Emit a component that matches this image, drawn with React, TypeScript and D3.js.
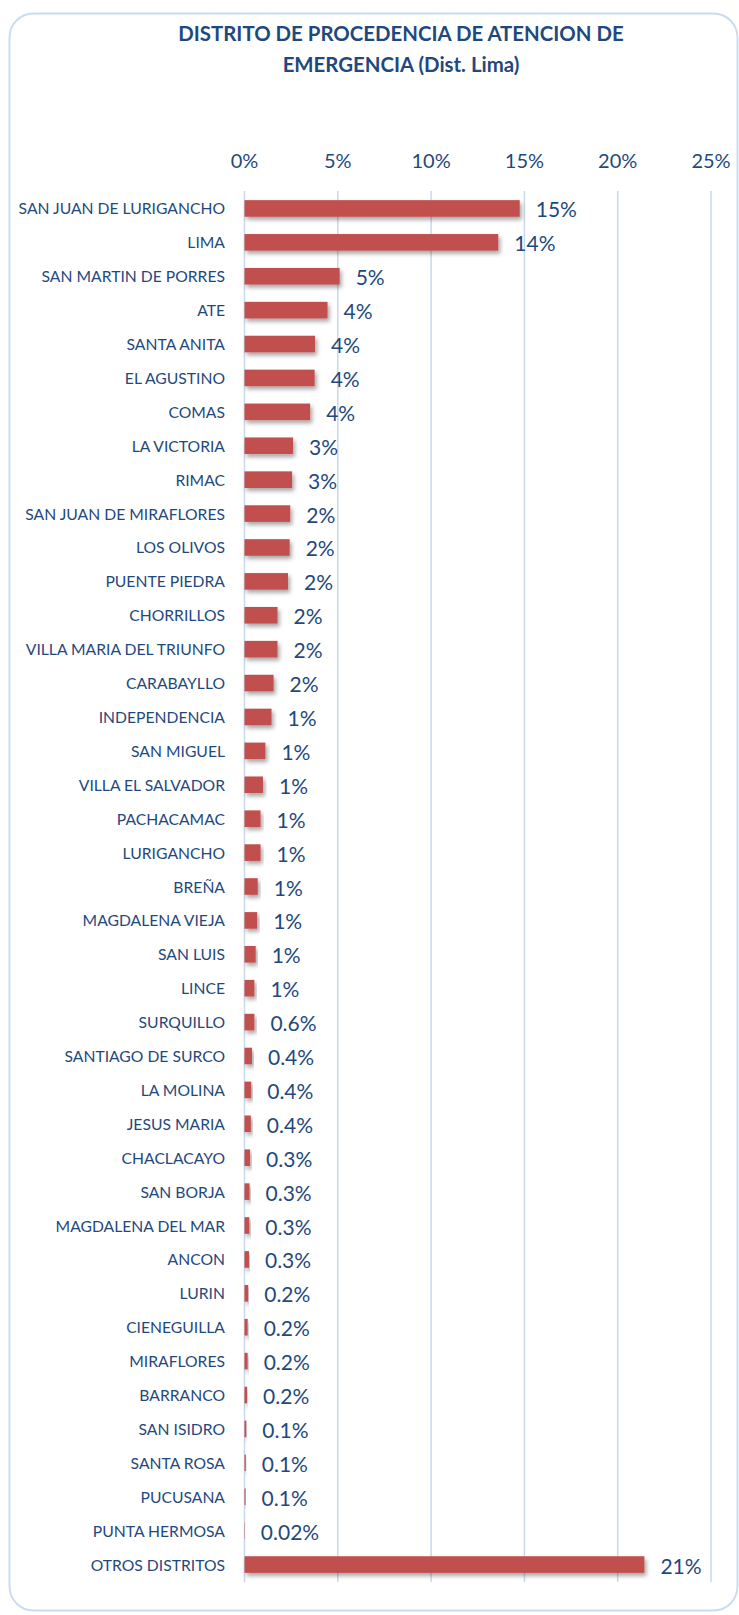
import React from "react";
import * as d3 from "d3";

const categories: string[] = [
  "SAN JUAN DE LURIGANCHO", "LIMA", "SAN MARTIN DE PORRES", "ATE", "SANTA ANITA",
  "EL AGUSTINO", "COMAS", "LA VICTORIA", "RIMAC", "SAN JUAN DE MIRAFLORES",
  "LOS OLIVOS", "PUENTE PIEDRA", "CHORRILLOS", "VILLA MARIA DEL TRIUNFO", "CARABAYLLO",
  "INDEPENDENCIA", "SAN MIGUEL", "VILLA EL SALVADOR", "PACHACAMAC", "LURIGANCHO",
  "BREÑA", "MAGDALENA VIEJA", "SAN LUIS", "LINCE", "SURQUILLO",
  "SANTIAGO DE SURCO", "LA MOLINA", "JESUS MARIA", "CHACLACAYO", "SAN BORJA",
  "MAGDALENA DEL MAR", "ANCON", "LURIN", "CIENEGUILLA", "MIRAFLORES",
  "BARRANCO", "SAN ISIDRO", "SANTA ROSA", "PUCUSANA", "PUNTA HERMOSA",
  "OTROS DISTRITOS",
];

const values: number[] = [
  14.75, 13.6, 5.1, 4.45, 3.78,
  3.76, 3.52, 2.6, 2.55, 2.45,
  2.42, 2.33, 1.77, 1.77, 1.56,
  1.45, 1.12, 0.99, 0.86, 0.86,
  0.71, 0.68, 0.6, 0.53, 0.53,
  0.4, 0.36, 0.34, 0.3, 0.27,
  0.26, 0.24, 0.2, 0.17, 0.17,
  0.14, 0.1, 0.07, 0.06, 0.02,
  21.43,
];

const valueLabels: string[] = [
  "15%", "14%", "5%", "4%", "4%",
  "4%", "4%", "3%", "3%", "2%",
  "2%", "2%", "2%", "2%", "2%",
  "1%", "1%", "1%", "1%", "1%",
  "1%", "1%", "1%", "1%", "0.6%",
  "0.4%", "0.4%", "0.4%", "0.3%", "0.3%",
  "0.3%", "0.3%", "0.2%", "0.2%", "0.2%",
  "0.2%", "0.1%", "0.1%", "0.1%", "0.02%",
  "21%",
];

const ticks: number[] = [0, 5, 10, 15, 20, 25];
const titleLines: string[] = ["DISTRITO DE PROCEDENCIA DE ATENCION DE", "EMERGENCIA (Dist. Lima)"];

const W = 739;
const H = 1615;
const TEXT = "#1F497D";
const BAR = "#C0504D";
const GRID = "#C8D9EF";
const FONT = "Lato, 'Open Sans', sans-serif";

export default function App() {
  const x = d3.scaleLinear().domain([0, 25]).range([244.5, 711]);
  const y = d3
    .scaleBand<string>()
    .domain(categories)
    .range([191.5, 1581.5])
    .paddingInner(0.51)
    .paddingOuter(0.255);
  const bw = y.bandwidth();

  return (
    <svg
      width={W}
      height={H}
      style={{ position: "absolute", left: 0, top: 0, background: "#fff" }}
    >
      <defs>
        <filter id="shadow" x="-10%" y="-50%" width="130%" height="220%">
          <feDropShadow dx="2" dy="3" stdDeviation="2" floodColor="#000" floodOpacity="0.35" />
        </filter>
      </defs>
      <rect x={0} y={0} width={W} height={H} fill="#fff" />
      <rect
        x={9.5}
        y={13.5}
        width={728}
        height={1597}
        rx={24}
        ry={24}
        fill="none"
        stroke="#CCDCF0"
        strokeWidth={2}
      />
      {titleLines.map((t, i) => (
        <text
          key={t}
          x={401}
          y={33 + i * 30.5}
          textAnchor="middle"
          dominantBaseline="central"
          fontFamily={FONT}
          fontWeight="bold"
          fontSize={20.4}
          fill={TEXT}
        >
          {t}
        </text>
      ))}
      {ticks.map((t) => (
        <g key={t}>
          <line
            x1={x(t)}
            x2={x(t)}
            y1={191}
            y2={1582}
            stroke={GRID}
            strokeWidth={1.5}
          />
          <text
            x={x(t)}
            y={159.5}
            textAnchor="middle"
            dominantBaseline="central"
            fontFamily={FONT}
            fontSize={20}
            fill={TEXT}
          >
            {t + "%"}
          </text>
        </g>
      ))}
      {categories.map((c, i) => {
        const yy = y(c) as number;
        const v = values[i];
        return (
          <g key={c}>
            <rect
              x={x(0)}
              y={yy}
              width={Math.max(0, x(v) - x(0))}
              height={bw}
              fill={BAR}
              filter="url(#shadow)"
            />
            <text
              x={225}
              y={yy + bw / 2}
              textAnchor="end"
              dominantBaseline="central"
              fontFamily={FONT}
              fontSize={15.7}
              fill={TEXT}
            >
              {c}
            </text>
            <text
              x={x(v) + 16}
              y={yy + bw / 2 + 0.5}
              textAnchor="start"
              dominantBaseline="central"
              fontFamily={FONT}
              fontSize={21}
              fill={TEXT}
            >
              {valueLabels[i]}
            </text>
          </g>
        );
      })}
    </svg>
  );
}
